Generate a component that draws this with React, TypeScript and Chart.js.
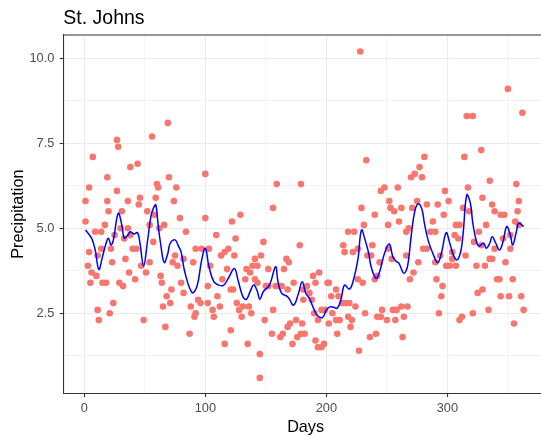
import { useEffect, useRef } from "react";
import { Chart, registerables } from "chart.js";

Chart.register(...registerables);

const TITLE = "St. Johns";
const X_TITLE = "Days";
const Y_TITLE = "Precipitation";
const xTickLabels = [0, 100, 200, 300];
const yTickLabels = [2.5, 5, 7.5, 10];

const days = [
  1, 1, 3, 4, 4, 5, 6, 7, 9, 10, 11, 11, 12, 14, 14, 15, 17, 18, 19, 19, 20, 21, 22, 23, 24, 25, 27, 27, 28, 29,
  30, 31, 32, 33, 34, 36, 36, 37, 38, 38, 40, 42, 43, 44, 45, 46, 47, 49, 51, 52, 54, 54, 56, 57, 58, 59, 60, 61,
  62, 63, 64, 65, 66, 67, 68, 69, 70, 71, 72, 73, 74, 75, 76, 77, 79, 80, 82, 82, 84,
  87, 88, 90, 91, 92, 92, 94, 96, 97, 100, 100, 102, 102, 103, 104, 106, 107, 109, 110, 112, 113, 114, 116, 116,
  118, 119, 121, 121, 122, 123, 124, 125, 126, 128, 129, 130, 131, 133, 134, 135, 136, 137, 138, 139, 141, 141,
  143, 143, 145, 145, 146, 148, 149, 150, 152, 152, 155, 156, 156, 158, 159, 161, 162, 163, 164, 165, 167, 168,
  168, 169, 170, 172, 173, 175, 176, 178, 179, 179, 180, 181, 181, 182, 184, 186, 188, 189, 190, 191, 191, 193,
  193, 194, 196, 196, 198, 199, 201, 202, 202, 204, 205, 208, 208, 209, 210, 211, 213, 214, 215, 216, 218, 218,
  219, 220, 221, 222, 223, 224, 226, 226, 227, 228, 229, 230, 231, 232, 233, 234, 236, 237, 238, 240, 240, 241,
  242, 242, 244, 245, 245, 246, 248, 250, 251, 251, 252, 253, 254, 255, 256, 257, 258, 259, 260, 262, 262, 263,
  264, 266, 266, 267, 268, 269, 270, 271, 272, 273, 275, 276, 277, 279, 280, 281, 283, 283, 286, 288, 290, 290,
  291, 292, 293, 294, 295, 296, 297, 298, 299, 301, 302, 304, 304, 306, 307, 307, 309, 310, 310, 312, 313, 314,
  315, 316, 317, 318, 321, 321, 322, 324, 325, 326, 328, 328, 329, 329, 331, 332, 334, 335, 335, 337, 337, 339,
  339, 341, 343, 344, 344, 346, 347, 348, 350, 351, 352, 352, 354, 355, 356, 357, 358, 359, 359, 361, 362, 363,
];

const precipitation = [
  5.2, 5.8, 3.9, 4.3, 6.2, 3.4, 3.7, 7.1, 4.9, 3.6, 4.2, 2.6, 2.3, 4.9, 4.4, 3.4, 5.1, 3.4, 5.8, 6.5, 5.5, 2.5, 4.4,
  4.0, 2.8, 4.8, 6.1, 7.6, 7.4, 3.4, 5.0, 5.5, 3.3, 4.7, 4.1, 5.0, 5.8, 3.7, 6.8, 4.8, 4.4, 3.5, 4.4, 6.9, 5.7, 5.9,
  3.9, 2.3, 3.7, 5.5, 5.1, 4.0, 7.7, 4.6, 5.4, 5.9, 6.3, 6.2, 5.0, 3.6, 3.4, 2.7, 5.1, 2.1, 3.0, 8.1, 6.5, 2.8, 3.2,
  4.0, 5.8, 4.2, 6.2, 3.9, 5.3, 3.4, 4.1, 3.1, 4.9,
  1.9, 2.7, 4.0, 2.4, 4.4, 2.5, 2.9, 2.8, 4.4, 6.6, 5.3, 3.3, 2.8, 4.4, 3.9, 2.6, 2.4, 4.8, 3.0, 2.7, 4.2, 3.5, 1.6,
  4.3, 3.8, 4.4, 2.0, 3.2, 5.2, 3.2, 4.2, 4.7, 2.8, 2.6, 5.4, 2.4, 2.7, 3.5, 3.8, 1.6, 2.7, 3.7, 2.5, 3.9, 4.1, 3.5,
  3.9, 3.4, 1.3, 0.6, 4.2, 4.6, 2.3, 3.3, 3.8, 3.3, 1.9, 2.6, 5.6, 3.3, 6.3, 3.3, 1.8, 3.3, 1.9, 3.8, 4.1, 2.1,
  3.2, 4.0, 2.2, 1.6, 3.4, 2.3, 1.8, 4.5, 1.9, 6.3, 2.2, 3.2, 2.9, 1.9, 3.3, 3.1, 2.9, 3.6, 2.5, 1.7, 3.4, 1.5,
  2.3, 3.7, 2.6, 1.5, 1.6, 2.6, 3.4, 2.2, 3.4, 3.0, 2.5, 2.3, 3.2, 1.9, 3.0, 2.3, 2.8, 4.5, 4.3, 2.8, 2.4, 4.9,
  2.8, 2.1, 2.3, 4.3, 4.9, 2.7, 4.4, 3.5, 1.4, 10.2, 5.6, 3.4, 5.1, 2.5, 7.0, 4.2, 1.8, 4.2, 4.5, 3.5, 5.4, 1.9,
  3.6, 2.4, 4.0, 6.1, 2.4, 2.6, 6.2, 2.3, 4.4, 5.1, 5.8, 5.6, 4.1, 2.6, 5.5, 2.3, 2.6, 6.2, 5.2, 2.7, 5.6, 1.8,
  2.4, 4.9, 4.2, 2.7, 5.0, 3.5, 6.5, 5.6, 3.7, 6.6, 5.8, 4.0, 6.8, 6.5, 4.4, 7.1, 5.7, 4.4, 4.9, 5.2, 4.9, 4.0,
  3.5, 5.7, 2.5, 4.2, 3.0, 3.3, 5.4, 6.1, 3.9, 5.8, 3.9, 4.3, 4.1, 4.8, 5.1, 3.9, 4.7, 2.3, 5.1, 2.4, 5.6, 7.1,
  4.2, 8.3, 6.2, 5.5, 8.3, 2.5, 4.6, 3.9, 3.1, 4.9, 7.3, 4.5, 5.9, 3.2, 3.9, 5.1, 2.6, 4.1, 6.4, 5.7, 4.1, 5.5,
  4.4, 3.5, 3.5, 5.4, 3.0, 4.7, 5.4, 4.0, 9.1, 3.0, 4.8, 4.4, 3.5, 2.2, 5.2, 6.3, 5.5, 5.8, 5.1, 3.0, 8.4, 2.6,
];

const smoothDays = [
  1, 6, 9, 12, 15, 18, 20, 22, 24, 28, 31, 33, 36, 38, 41, 44, 46, 49, 52, 55, 57, 59, 61, 63, 66, 69, 71, 75, 78,
  80, 83, 89, 93, 97, 100, 103, 107, 111, 115, 119, 124, 127, 131, 134, 137, 140, 143, 145, 148, 153, 158, 160,
  163, 167, 169, 173, 177, 180, 183, 186, 190, 193, 197, 200, 203, 206, 209, 212, 215, 219, 222, 226, 229, 232,
  235, 237, 241, 244, 248, 252, 255, 258, 260, 264, 267, 270, 273, 276, 279, 281, 284, 288, 292, 295, 299, 302,
  305, 308, 311, 313, 316, 319, 321, 324, 326, 330, 332, 335, 337, 340, 343, 346, 349, 352, 354, 357, 359, 363,
];

const smoothValues = [
  4.95, 4.71, 4.36, 3.79, 4.16, 4.56, 4.71, 4.51, 4.66, 5.44, 5.1, 4.71, 4.8, 4.9, 4.83, 4.87, 4.56, 3.89, 4.56,
  5.34, 5.58, 5.69, 5.1, 4.56, 3.99, 4.26, 4.56, 4.66, 4.46, 4.3, 3.72, 3.11, 3.28, 4.07, 4.41, 3.87, 3.43, 3.33,
  3.32, 3.53, 3.82, 3.48, 2.99, 2.91, 3.14, 3.33, 3.14, 2.91, 3.14, 3.33, 3.87, 3.43, 3.09, 3.01, 2.94, 2.74,
  3.09, 3.43, 3.09, 2.94, 2.6, 2.42, 2.38, 2.6, 2.69, 2.68, 2.65, 2.89, 3.33, 3.21, 3.43, 4.07, 4.95, 4.66, 4.26,
  3.87, 3.53, 3.72, 4.26, 4.54, 4.16, 4.02, 3.97, 3.68, 3.87, 4.75, 5.49, 5.72, 5.55, 5.15, 4.66, 4.26, 3.99,
  4.26, 4.87, 4.56, 4.21, 4.07, 4.31, 4.85, 5.98, 5.74, 5.15, 4.61, 4.48, 4.56, 4.41, 4.56, 4.75, 4.56, 4.36,
  4.61, 5.05, 4.8, 4.51, 4.9, 5.15, 5.05,
];

const FONT = "'Liberation Sans', Arial, Helvetica, sans-serif";
const BORDER = "#333333";

const isMajorX = (v: number) => xTickLabels.some((t) => Math.abs(t - v) < 1e-6);
const isMajorY = (v: number) => yTickLabels.some((t) => Math.abs(t - v) < 1e-6);

const textPlugin = {
  id: "ggText",
  afterDraw(chart: any) {
    const { ctx, chartArea } = chart;
    ctx.save();
    ctx.strokeStyle = BORDER;
    ctx.lineWidth = 1.07;
    ctx.beginPath();
    ctx.moveTo(chartArea.left, chartArea.top);
    ctx.lineTo(chart.width, chartArea.top);
    ctx.stroke();
    ctx.fillStyle = "#000000";
    ctx.textBaseline = "alphabetic";
    ctx.textAlign = "left";
    ctx.font = `19.5px ${FONT}`;
    ctx.fillText(TITLE, 63.3, 24.3);
    ctx.textAlign = "center";
    ctx.font = `16.2px ${FONT}`;
    ctx.fillText(X_TITLE, 305.6, 431.6);
    ctx.translate(22.5, (chartArea.top + chartArea.bottom) / 2);
    ctx.rotate(-Math.PI / 2);
    ctx.fillText(Y_TITLE, 0, 0);
    ctx.restore();
  },
};

export default function App() {
  const ref = useRef<HTMLCanvasElement | null>(null);
  useEffect(() => {
    if (!ref.current) return;
    const chart = new Chart(ref.current, {
      type: "scatter",
      data: {
        datasets: [
          {
            label: "smooth",
            data: smoothDays.map((d, i) => ({ x: d, y: smoothValues[i] })),
            showLine: true,
            borderColor: "#0000FF",
            borderWidth: 1.5,
            pointRadius: 0,
            tension: 0.4,
            fill: false,
          },
          {
            label: "precip",
            data: days.map((d, i) => ({ x: d, y: precipitation[i] })),
            backgroundColor: "#F8766D",
            borderWidth: 0,
            pointRadius: 3.3,
            pointHoverRadius: 3.3,
          },
        ],
      },
      options: {
        animation: false,
        responsive: false,
        devicePixelRatio: 1,
        layout: { autoPadding: false, padding: { top: 35, left: 0, right: 0, bottom: 0 } },
        plugins: { legend: { display: false }, tooltip: { enabled: false }, title: { display: false } },
        scales: {
          x: {
            type: "linear",
            min: -17.35,
            max: 377.35,
            afterFit: (s: any) => {
              s.height = 42.7;
              s.paddingLeft = 0;
              s.paddingRight = 0;
            },
            ticks: {
              stepSize: 50,
              includeBounds: false,
              autoSkip: false,
              maxRotation: 0,
              padding: 4,
              color: "#4D4D4D",
              font: { family: FONT, size: 12.8 },
              callback: (v: any) => (isMajorX(Number(v)) ? String(v) : ""),
            },
            grid: {
              color: "#EBEBEB",
              lineWidth: (c: any) => (c.tick && isMajorX(c.tick.value) ? 1.07 : 0.6),
              tickColor: (c: any) => (c.tick && isMajorX(c.tick.value) ? BORDER : "rgba(0,0,0,0)"),
              tickLength: 3.6,
              tickWidth: 1.07,
            },
            border: { display: true, color: BORDER, width: 1.07 },
          },
          y: {
            type: "linear",
            min: 0.147,
            max: 10.685,
            afterFit: (s: any) => {
              s.width = 63.3;
              s.paddingTop = 0;
              s.paddingBottom = 0;
            },
            ticks: {
              stepSize: 1.25,
              includeBounds: false,
              autoSkip: false,
              padding: 5.4,
              color: "#4D4D4D",
              font: { family: FONT, size: 12.8 },
              callback: (v: any) => (isMajorY(Number(v)) ? Number(v).toFixed(1) : ""),
            },
            grid: {
              color: "#EBEBEB",
              lineWidth: (c: any) => (c.tick && isMajorY(c.tick.value) ? 1.07 : 0.6),
              tickColor: (c: any) => (c.tick && isMajorY(c.tick.value) ? BORDER : "rgba(0,0,0,0)"),
              tickLength: 3.6,
              tickWidth: 1.07,
            },
            border: { display: true, color: BORDER, width: 1.07 },
          },
        },
      },
      plugins: [textPlugin],
    });
    return () => chart.destroy();
  }, []);
  return (
    <div style={{ position: "absolute", left: 0, top: 0, width: 541, height: 436, overflow: "hidden" }}>
      <canvas ref={ref} width={541} height={436} style={{ display: "block" }} />
    </div>
  );
}
